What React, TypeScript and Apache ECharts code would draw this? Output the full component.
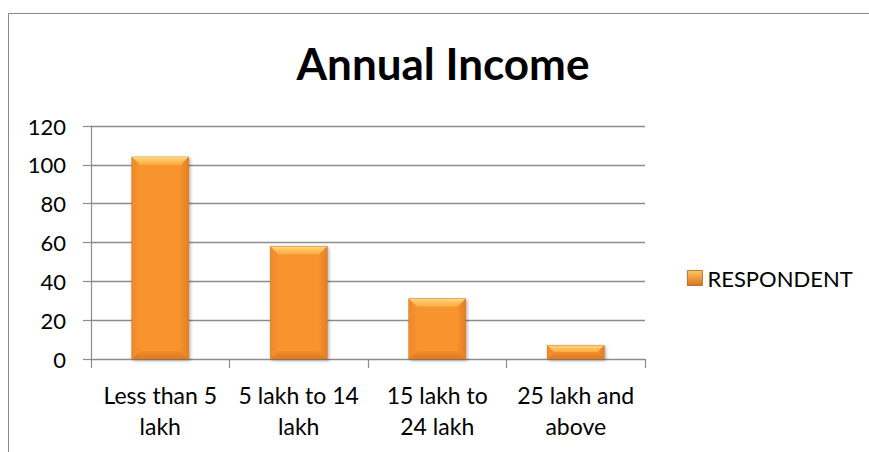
import React, { useEffect, useRef } from "react";
import * as echarts from "echarts";

const categories: string[] = [
  "Less than 5\nlakh",
  "5 lakh to 14\nlakh",
  "15 lakh to\n24 lakh",
  "25 lakh and\nabove",
];
const respondentValues: number[] = [104, 58, 31, 7];
const seriesName = "RESPONDENT";
const chartTitle = "Annual Income";
const yMin = 0;
const yMax = 120;
const yInterval = 20;

const FONT = "Lato, 'Noto Sans', sans-serif";
const GRID_COLOR = "#8c8c8c";

function renderBar(params: any, api: any) {
  const idx = api.value(0);
  const val = api.value(1);
  const top = api.coord([idx, val]);
  const base = api.coord([idx, 0]);
  const band = api.size([1, 0])[0];
  const w = band * 0.41;
  const x0 = top[0] - w / 2;
  const x1 = x0 + w;
  const y0 = top[1];
  const y1 = base[1];
  const h = y1 - y0;
  const b = Math.max(0, Math.min(8, h / 2, w / 2));
  return {
    type: "group",
    children: [
      {
        type: "rect",
        shape: { x: x0, y: y0, width: w, height: h },
        style: {
          fill: "#F7942F",
          stroke: "#B8651F",
          lineWidth: 0.7,
          shadowBlur: 3,
          shadowOffsetX: 1.5,
          shadowOffsetY: 1.5,
          shadowColor: "rgba(0,0,0,0.3)",
        },
      },
      {
        type: "polygon",
        shape: { points: [[x0, y0], [x1, y0], [x1 - b, y0 + b], [x0 + b, y0 + b]] },
        style: {
          fill: new echarts.graphic.LinearGradient(0, 0, 0, 1, [
            { offset: 0, color: "#FFD77A" },
            { offset: 1, color: "#FCA93F" },
          ]),
        },
      },
      {
        type: "polygon",
        shape: { points: [[x0, y0], [x0 + b, y0 + b], [x0 + b, y1 - b], [x0, y1]] },
        style: {
          fill: new echarts.graphic.LinearGradient(0, 0, 1, 0, [
            { offset: 0, color: "#EE8A29" },
            { offset: 1, color: "#F6932F" },
          ]),
        },
      },
      {
        type: "polygon",
        shape: { points: [[x1, y0], [x1 - b, y0 + b], [x1 - b, y1 - b], [x1, y1]] },
        style: {
          fill: new echarts.graphic.LinearGradient(0, 0, 1, 0, [
            { offset: 0, color: "#F4902D" },
            { offset: 1, color: "#E48024" },
          ]),
        },
      },
      {
        type: "polygon",
        shape: { points: [[x0, y1], [x0 + b, y1 - b], [x1 - b, y1 - b], [x1, y1]] },
        style: {
          fill: new echarts.graphic.LinearGradient(0, 0, 0, 1, [
            { offset: 0, color: "#EF8B2A" },
            { offset: 1, color: "#DE7A22" },
          ]),
        },
      },
    ],
  };
}

export default function App() {
  const ref = useRef<HTMLDivElement>(null);
  useEffect(() => {
    if (!ref.current) return;
    const chart = echarts.init(ref.current, undefined, { renderer: "svg" });
    chart.setOption({
      animation: false,
      backgroundColor: "#ffffff",
      title: {
        text: chartTitle,
        left: 443,
        top: 41,
        padding: 0,
        textAlign: "center",
        textStyle: { fontFamily: FONT, fontWeight: "bold", fontSize: 44, color: "#000" },
      },
      legend: {
        left: 687,
        top: 267,
        padding: 0,
        itemWidth: 15,
        itemHeight: 15,
        data: [
          {
            name: seriesName,
            icon: "rect",
            itemStyle: {
              color: new echarts.graphic.LinearGradient(0, 0, 0, 1, [
                { offset: 0, color: "#FFC861" },
                { offset: 1, color: "#D9731E" },
              ]),
              borderColor: "#A85A1A",
              borderWidth: 0.8,
            },
          },
        ],
        textStyle: { fontFamily: FONT, fontSize: 22, color: "#000" },
      },
      grid: { left: 91, right: 224, top: 126, bottom: 93, containLabel: false },
      xAxis: {
        type: "category",
        data: categories,
        boundaryGap: true,
        axisLine: { show: true, lineStyle: { color: GRID_COLOR, width: 1.2 } },
        axisTick: { show: true, length: 9, lineStyle: { color: GRID_COLOR, width: 1.2 } },
        axisLabel: {
          fontFamily: FONT,
          fontSize: 23,
          lineHeight: 31,
          color: "#000",
          margin: 20,
          interval: 0,
        },
      },
      yAxis: {
        type: "value",
        min: yMin,
        max: yMax,
        interval: yInterval,
        axisLine: { show: true, lineStyle: { color: GRID_COLOR, width: 1.2 } },
        axisTick: { show: true, length: 8, lineStyle: { color: GRID_COLOR, width: 1.2 } },
        splitLine: { show: true, lineStyle: { color: GRID_COLOR, width: 1.3 } },
        axisLabel: { fontFamily: FONT, fontSize: 22, color: "#000", margin: 25 },
      },
      graphic: [
        {
          type: "polyline",
          silent: true,
          shape: { points: [[8.5, 452], [8.5, 13.5], [869, 13.5]] },
          style: { stroke: "#898989", lineWidth: 1, fill: "none" },
        },
      ],
      series: [
        {
          name: seriesName,
          type: "custom",
          renderItem: renderBar,
          encode: { x: 0, y: 1 },
          data: respondentValues.map((v, i) => [i, v]),
        },
      ],
    });
    return () => chart.dispose();
  }, []);
  return (
    <div
      ref={ref}
      style={{ position: "fixed", left: 0, top: 0, width: 869, height: 452 }}
    />
  );
}
